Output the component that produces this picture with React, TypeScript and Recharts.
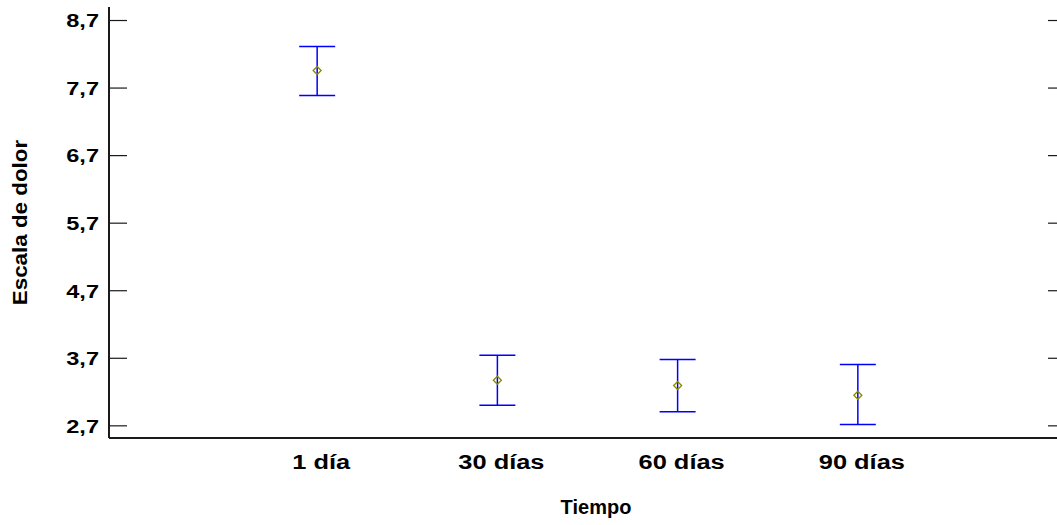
import { ComposedChart, ErrorBar, Scatter, XAxis, YAxis } from "recharts";

const categories = ["1 día", "30 días", "60 días", "90 días"];
const means = [7.96, 3.375, 3.296, 3.153];
const lowerLimits = [7.59, 3.005, 2.907, 2.719];
const upperLimits = [8.315, 3.744, 3.681, 3.607];
const yTicks = [2.7, 3.7, 4.7, 5.7, 6.7, 7.7, 8.7];

const chartData = categories.map((label, i) => ({
  x: i + 1,
  label,
  mean: means[i],
  err: [means[i] - lowerLimits[i], upperLimits[i] - means[i]],
}));

const xDomain = [-0.155, 5.155];
const yDomain = [2.52, 8.9];
const axisColor = "#1a1a1a";
const font = "'Liberation Sans', Arial, sans-serif";

const fmt = (v: number) => v.toFixed(1).replace(".", ",");

// the original labels look horizontally stretched, so scale them instead of spacing letters
function LeftTick(props: any) {
  const { x, y, payload } = props;
  return (
    <g>
      <line x1={x + 8} x2={x + 26} y1={y} y2={y} stroke={axisColor} strokeWidth={1.2} />
      <text
        transform={`translate(${x - 2},${y + 6.8}) scale(1.24,1)`}
        textAnchor="end"
        fill="#000"
        fontFamily={font}
        fontWeight="bold"
        fontSize={19}
      >
        {fmt(payload.value)}
      </text>
    </g>
  );
}

function RightTick(props: any) {
  const { x, y } = props;
  return <line x1={x - 18} x2={x} y1={y} y2={y} stroke={axisColor} strokeWidth={1.2} />;
}

function BottomTick(props: any) {
  const { x, y, payload } = props;
  return (
    <text
      transform={`translate(${x + 4},${y + 14.5}) scale(1.24,1)`}
      textAnchor="middle"
      fill="#000"
      fontFamily={font}
      fontWeight="bold"
      fontSize={20.5}
    >
      {categories[payload.value - 1]}
    </text>
  );
}

function Diamond(props: any) {
  const { cx, cy } = props;
  const r = 4;
  return (
    <polygon
      points={`${cx},${cy - r} ${cx + r},${cy} ${cx},${cy + r} ${cx - r},${cy}`}
      fill="none"
      stroke="#8a8a00"
      strokeWidth={1.3}
    />
  );
}

export default function App() {
  return (
    <div
      style={{
        position: "absolute",
        left: 0,
        top: 0,
        width: 1057,
        height: 525,
        overflow: "hidden",
        background: "#fff",
      }}
    >
      <ComposedChart
        width={1086}
        height={525}
        data={chartData}
        margin={{ top: 7, right: 0, bottom: 0, left: 0 }}
      >
        <XAxis
          dataKey="x"
          type="number"
          domain={xDomain}
          allowDataOverflow
          ticks={[1, 2, 3, 4]}
          tickLine={false}
          tickSize={0}
          tickMargin={16}
          height={87}
          axisLine={{ stroke: axisColor, strokeWidth: 2 }}
          tick={<BottomTick />}
          label={{
            content: (p: any) => {
              const vb = p.viewBox;
              return (
                <text
                  x={vb.x + vb.width / 2 + 8.5}
                  y={514}
                  textAnchor="middle"
                  fill="#000"
                  fontFamily={font}
                  fontWeight="bold"
                  fontSize={20}
                >
                  Tiempo
                </text>
              );
            },
          }}
        />
        <XAxis
          xAxisId="top"
          orientation="top"
          type="number"
          domain={xDomain}
          allowDataOverflow
          height={0}
          tick={false}
          tickLine={false}
          axisLine={{ stroke: axisColor, strokeWidth: 1.5 }}
        />
        <YAxis
          type="number"
          domain={yDomain}
          allowDataOverflow
          ticks={yTicks}
          width={109}
          tickLine={false}
          tickSize={0}
          tickMargin={8}
          axisLine={{ stroke: axisColor, strokeWidth: 2 }}
          tick={<LeftTick />}
          label={{
            content: (p: any) => {
              const vb = p.viewBox;
              const cx = 27;
              const cy = vb.y + vb.height / 2;
              return (
                <text
                  transform={`translate(${cx},${cy}) rotate(-90) scale(1.12,1)`}
                  textAnchor="middle"
                  fill="#000"
                  fontFamily={font}
                  fontWeight="bold"
                  fontSize={20}
                >
                  Escala de dolor
                </text>
              );
            },
          }}
        />
        <YAxis
          yAxisId="right"
          orientation="right"
          type="number"
          domain={yDomain}
          allowDataOverflow
          ticks={yTicks}
          width={20}
          tickLine={false}
          tickSize={0}
          tickMargin={0}
          axisLine={{ stroke: axisColor, strokeWidth: 2 }}
          tick={<RightTick />}
        />
        <Scatter dataKey="mean" shape={<Diamond />} isAnimationActive={false}>
          <ErrorBar
            dataKey="err"
            direction="y"
            width={18}
            stroke="#0000ff"
            strokeWidth={1.5}
            isAnimationActive={false}
          />
        </Scatter>
      </ComposedChart>
    </div>
  );
}
